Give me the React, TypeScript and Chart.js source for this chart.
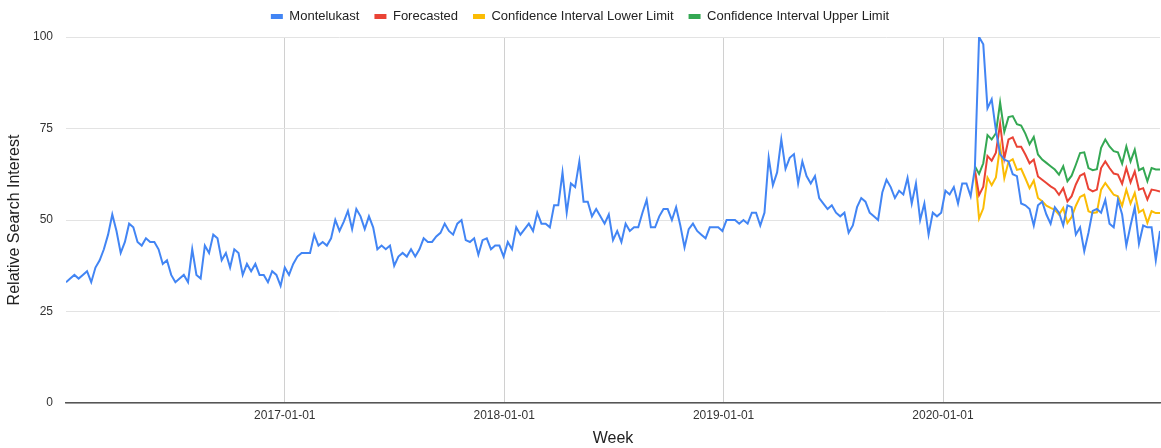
import React, { useEffect, useRef } from "react";
import { Chart, registerables } from "chart.js";

Chart.register(...registerables);

// Weekly data, first week starting 2016-01-03 (x = days since that date)
const WEEK_STEP_DAYS = 7;
const FORECAST_START_WEEK = 216;

const montelukast: number[] = [
  33, 34, 35, 34, 35, 36, 33, 37, 39, 42, 46, 51.5, 47, 41, 44, 49, 48, 44, 43, 45,
  44, 44, 42, 38, 39, 35, 33, 34, 35, 33, 42, 35, 34, 43, 41,
  46, 45, 39, 41, 37, 42, 41, 35, 38, 36, 38, 35, 35, 33, 36, 35, 32, 37, 35, 38,
  40, 41, 41, 41, 46, 43, 44, 43, 45, 50, 47, 49.5, 52.5,
  47.5, 53, 51, 47.5, 51, 48, 42, 43, 42, 43, 37.5, 40, 41, 40, 42, 40, 42, 45, 44, 44,
  45.5, 46.5, 49, 47, 46, 49, 50, 44.5, 44, 45, 40.5, 44.5, 45, 42,
  43, 43, 40, 44, 42, 48, 46, 47.5, 49, 47, 52, 49, 49, 48, 54, 54, 63, 52, 60, 59,
  66, 55, 55, 51, 53, 51, 49, 51.5, 44.5, 47, 44, 49, 47,
  48, 48, 52, 55.5, 48, 48, 51, 53, 53, 50, 53.5, 48.5, 42.5, 47.5, 49, 47, 46, 45, 48, 48,
  48, 47, 50, 50, 50, 49, 50, 49, 52, 52, 48.5, 52, 67,
  59.5, 63, 72, 64, 67, 68, 60, 66, 62, 60, 62, 56, 54.5, 53, 54, 52, 51, 52, 46.5, 48.5,
  53.5, 56, 55, 52, 51, 50, 57.5, 61, 59, 56, 58, 57, 61.5,
  54.5, 60, 50, 54.5, 46, 52, 51, 52, 58, 57, 59, 54.5, 60, 60, 56.5, 64, 100, 98, 80.5, 83,
  74.5, 68, 66.5, 66, 62.5, 62,
  54.5, 54, 53, 48.5, 54, 55, 51.5, 49, 53.5, 52, 48.5, 54, 53.5, 46, 48, 41.5, 46.5, 52.5, 53, 52,
  55.5, 49, 48, 55.5, 51.5, 43, 48.5, 53.5, 43.5, 48.5, 48, 48, 39, 47,
];

const forecasted: number[] = [
  63.7, 56.8, 59.1, 67.5, 66.2, 68.4, 76.3, 66.8, 72, 72.6,
  70, 70, 67.9, 65.5, 66.5, 61.9, 61, 60.1, 59.2, 58.5,
  56.9, 58.7, 55.1, 56.5, 59.7, 62.1, 62.7, 58.5, 57.8, 58.3,
  64.2, 66, 64.2, 62.7, 62.4, 59.9, 64.2, 60.3, 63.3, 58.3,
  58.7, 55.6, 58.3, 58.1, 57.8,
];

const ciLower: number[] = [
  63.5, 50.4, 53.2, 61.6, 59.5, 61.6, 70.2, 61.4, 65.9, 66.6,
  63.7, 64, 61.4, 58.7, 60.8, 56, 55.1, 53.9, 53.3, 52.8,
  51.5, 53.3, 49.2, 50.8, 53.9, 56.3, 56.9, 52.4, 51.9, 52.1,
  58.3, 60.1, 58.5, 56.9, 56.5, 53.9, 58.3, 54.5, 57.4, 52.1,
  52.8, 49.2, 52.4, 51.9, 51.9,
];

const ciUpper: number[] = [
  64.7, 62.6, 65.5, 73.2, 72, 73.7, 82.1, 74.1, 78.1, 78.4,
  76.2, 75.8, 73.6, 70.7, 72.7, 67.9, 66.5, 65.6, 64.7, 63.8,
  62.4, 64.7, 60.6, 62.1, 65.1, 68.3, 68.5, 64.2, 63.6, 63.9,
  69.7, 72, 70.1, 68.8, 68.5, 65.4, 70.1, 66, 69.2, 63.6,
  64.2, 60.6, 64.2, 63.8, 63.8,
];

// x tick labels (days since 2016-01-03)
const xTickLabels: string[] = ["2017-01-01", "2018-01-01", "2019-01-01", "2020-01-01"];
const xTickDays: number[] = [364, 729, 1094, 1459];
const X_MAX_DAYS = 1820;

const yTicks: number[] = [0, 25, 50, 75, 100];

const FONT = "'Liberation Sans', Arial, sans-serif";

export default function App() {
  const canvasRef = useRef<HTMLCanvasElement | null>(null);

  useEffect(() => {
    if (!canvasRef.current) return;

    const toPoints = (arr: number[], startWeek: number) =>
      arr.map((v, k) => ({ x: (startWeek + k) * WEEK_STEP_DAYS, y: v }));

    const mk = (label: string, color: string, data: any[]) => ({
      label,
      data,
      borderColor: color,
      backgroundColor: color,
      borderWidth: 2,
      pointRadius: 0,
      pointHoverRadius: 0,
      tension: 0,
      fill: false,
    });

    const legendFitPlugin = {
      id: "legendFit",
      afterInit(chart: any) {
        const legend = chart.legend;
        if (!legend || legend.__patched) return;
        const orig = legend.fit;
        legend.fit = function () {
          orig.call(this);
          this.height = 42;
        };
        legend.__patched = true;
      },
    };

    const chart = new Chart(canvasRef.current, {
      type: "line",
      data: {
        datasets: [
          mk("Montelukast", "#4285F4", toPoints(montelukast, 0)),
          mk("Forecasted", "#EA4335", toPoints(forecasted, FORECAST_START_WEEK)),
          mk("Confidence Interval Lower Limit", "#FBBC04", toPoints(ciLower, FORECAST_START_WEEK)),
          mk("Confidence Interval Upper Limit", "#34A853", toPoints(ciUpper, FORECAST_START_WEEK)),
        ],
      },
      options: {
        animation: false,
        responsive: true,
        maintainAspectRatio: false,
        parsing: false as any,
        layout: { padding: { top: -5, right: 1, left: 0, bottom: 0 } },
        plugins: {
          tooltip: { enabled: false },
          legend: {
            position: "top",
            labels: {
              font: { family: FONT, size: 13 },
              color: "#222222",
              boxWidth: 12,
              boxHeight: 5,
              padding: 15,
              generateLabels: (c: any) =>
                Chart.defaults.plugins.legend.labels
                  .generateLabels(c)
                  .map((it: any) => ({ ...it, lineWidth: 0 })),
            },
          },
        },
        scales: {
          x: {
            type: "linear",
            min: 0,
            max: X_MAX_DAYS,
            afterBuildTicks: (scale: any) => {
              scale.ticks = xTickDays.map((v) => ({ value: v }));
            },
            afterFit: (scale: any) => {
              scale.height = 45;
            },
            ticks: {
              autoSkip: false,
              maxRotation: 0,
              padding: 5,
              color: "#333333",
              font: { family: FONT, size: 12 },
              callback: (value: any) => {
                const idx = xTickDays.indexOf(Number(value));
                return idx >= 0 ? xTickLabels[idx] : "";
              },
            },
            grid: { color: "#d0d0d0", lineWidth: 1, drawTicks: false },
            border: { display: true, color: "#555555", width: 1.5 },
            title: {
              display: true,
              text: "Week",
              color: "#222222",
              font: { family: FONT, size: 16 },
              padding: { top: 4, bottom: 0 },
            },
          },
          y: {
            type: "linear",
            min: 0,
            max: 100,
            afterBuildTicks: (scale: any) => {
              scale.ticks = yTicks.map((v) => ({ value: v }));
            },
            afterFit: (scale: any) => {
              scale.width = 66;
            },
            ticks: {
              padding: 13,
              color: "#333333",
              font: { family: FONT, size: 12 },
            },
            grid: { color: "#e3e3e3", lineWidth: 1, drawTicks: false },
            border: { display: false },
            title: {
              display: true,
              text: "Relative Search Interest",
              color: "#222222",
              font: { family: FONT, size: 16 },
              padding: { top: 5, bottom: 0 },
            },
          },
        },
      },
      plugins: [legendFitPlugin],
    } as any);

    return () => {
      chart.destroy();
    };
  }, []);

  return (
    <div
      style={{
        position: "fixed",
        left: 0,
        top: 0,
        width: 1161,
        height: 448,
        background: "#ffffff",
      }}
    >
      <canvas ref={canvasRef} />
    </div>
  );
}
